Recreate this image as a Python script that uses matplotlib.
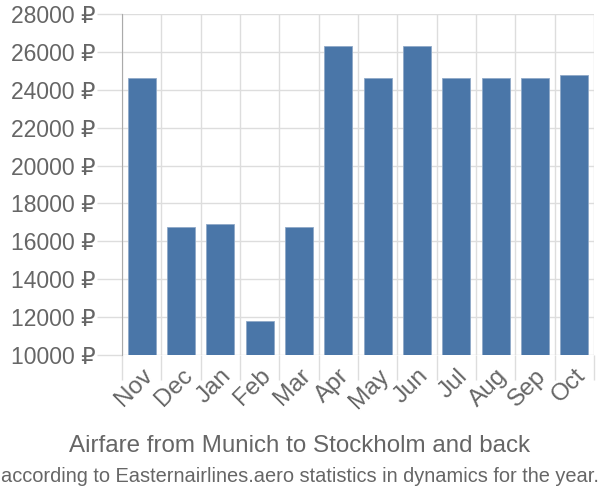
import numpy as np
import matplotlib.pyplot as plt

plt.rcParams['font.family'] = ['Liberation Sans', 'DejaVu Sans']

months = ["Nov", "Dec", "Jan", "Feb", "Mar", "Apr", "May", "Jun", "Jul", "Aug", "Sep", "Oct"]
prices = [24620, 16760, 16940, 11780, 16760, 26300, 24620, 26300, 24620, 24620, 24620, 24800]
yticks = list(range(10000, 28001, 2000))

text_color = "#666666"
grid_color = "#dddddd"

fig = plt.figure(figsize=(6, 5), dpi=100)
ax = fig.add_axes([122 / 600, 145 / 500, 472 / 600, 341 / 500])

x = np.arange(len(months))
ax.bar(x, prices, width=0.72, color="#4a76a8", edgecolor="#8fa9c8", linewidth=0.6, zorder=3)

ax.set_xlim(-0.5, len(months) - 0.5)
ax.set_ylim(10000, 28000)
ax.set_yticks(yticks)
ax.set_yticklabels([f"{v} ₽" for v in yticks], fontsize=16.5, color=text_color)

# boundaries between months for vertical grid lines
ax.set_xticks(np.arange(-0.5, len(months), 1.0), minor=False)
ax.set_xticklabels([])
ax.set_xticks(x, minor=True)
ax.set_xticklabels(months, minor=True, rotation=45, ha="right", va="top",
                   rotation_mode="anchor", fontsize=17.5, color=text_color)
ax.tick_params(axis="x", which="minor", length=0, pad=7)
ax.tick_params(axis="x", which="major", length=18, color=grid_color, width=1)
ax.tick_params(axis="y", length=18, color=grid_color, width=1, pad=1)

ax.grid(True, which="major", color=grid_color, linewidth=1, zorder=0)
for s in ["top", "right", "bottom"]:
    ax.spines[s].set_visible(False)
ax.spines["left"].set_color("#aaaaaa")
ax.spines["left"].set_zorder(4)

fig.text(0.5, 1 - 446 / 500, "Airfare from Munich to Stockholm and back",
         ha="center", va="center", fontsize=17.4, color=text_color)
fig.text(0.5, 1 - 476 / 500, "according to Easternairlines.aero statistics in dynamics for the year.",
         ha="center", va="center", fontsize=14.4, color=text_color)

fig.savefig("out.png", dpi=100)
